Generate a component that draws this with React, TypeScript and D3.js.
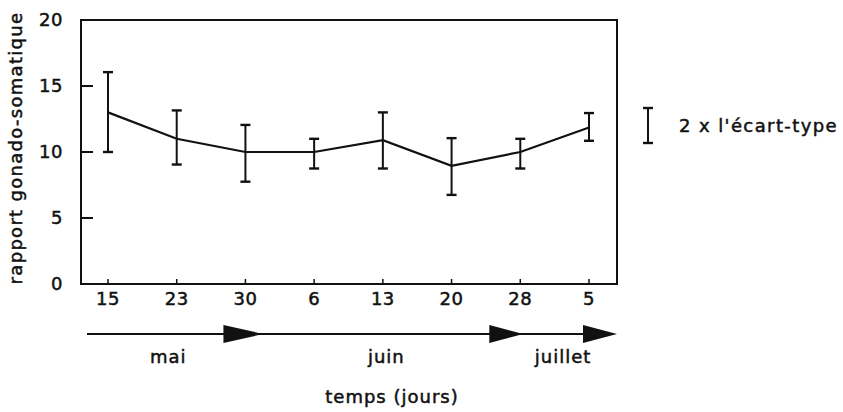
import React, { useEffect, useRef } from 'react';
import * as d3 from 'd3';

// jours d'échantillonnage (mai -> juillet)
const dayLabels = ['15', '23', '30', '6', '13', '20', '28', '5'];
// rapport gonado-somatique moyen
const means = [13.0, 11.0, 10.0, 10.0, 10.9, 8.95, 10.0, 11.85];
// bornes des barres (± écart-type)
const upper = [16.05, 13.15, 12.05, 11.0, 13.0, 11.05, 11.0, 12.95];
const lower = [10.0, 9.05, 7.75, 8.75, 8.75, 6.75, 8.75, 10.85];
const months = ['mai', 'juin', 'juillet'];
const yTicks = [0, 5, 10, 15, 20];

const FONT = '"DejaVu Sans", sans-serif';

const App: React.FC = () => {
  const svgRef = useRef<SVGSVGElement>(null);

  useEffect(() => {
    document.body.style.margin = '0';
    if (!svgRef.current) return;
    const svg = d3.select(svgRef.current);
    svg.selectAll('*').remove();

    const width = 843;
    const height = 412;
    const left = 81, right = 617, top = 20, bottom = 284;

    svg.attr('width', width).attr('height', height).style('background', 'white').style('display', 'block');

    const x = d3.scalePoint<string>().domain(dayLabels).range([108, 589]);
    const y = d3.scaleLinear().domain([0, 20]).range([bottom, top]);

    const g = svg.append('g')
      .style('font-family', FONT)
      .attr('fill', '#111');

    // heavier text like the scanned original
    const txt = (sel: d3.Selection<SVGTextElement, unknown, null, undefined>) =>
      sel.attr('stroke', '#111').attr('stroke-width', 0.5);

    // frame
    g.append('rect')
      .attr('x', left).attr('y', top)
      .attr('width', right - left).attr('height', bottom - top)
      .attr('fill', 'none').attr('stroke', '#111').attr('stroke-width', 2);

    // y ticks (inward)
    yTicks.forEach(t => {
      if (t > 0 && t < 20) {
        g.append('line')
          .attr('x1', left).attr('x2', left + 12)
          .attr('y1', y(t)).attr('y2', y(t))
          .attr('stroke', '#111').attr('stroke-width', 2);
      }
      txt(g.append('text'))
        .attr('x', 63).attr('y', y(t))
        .attr('dy', '0.36em')
        .attr('text-anchor', 'end')
        .style('font-size', '18px')
        .style('letter-spacing', '0.5px')
        .text(t);
    });

    // x ticks + labels
    dayLabels.forEach(d => {
      g.append('line')
        .attr('x1', x(d)!).attr('x2', x(d)!)
        .attr('y1', bottom).attr('y2', bottom - 5)
        .attr('stroke', '#111').attr('stroke-width', 1.5);
      txt(g.append('text'))
        .attr('x', x(d)!).attr('y', 305)
        .attr('text-anchor', 'middle')
        .style('font-size', '18px')
        .style('letter-spacing', '0.5px')
        .text(d);
    });

    // error bars
    const cap = 5;
    dayLabels.forEach((d, i) => {
      const cx = x(d)!;
      g.append('line')
        .attr('x1', cx).attr('x2', cx)
        .attr('y1', y(lower[i])).attr('y2', y(upper[i]))
        .attr('stroke', '#111').attr('stroke-width', 2);
      [lower[i], upper[i]].forEach(v => {
        g.append('line')
          .attr('x1', cx - cap).attr('x2', cx + cap)
          .attr('y1', y(v)).attr('y2', y(v))
          .attr('stroke', '#111').attr('stroke-width', 2.4);
      });
    });

    // mean line
    const line = d3.line<number>()
      .x((_, i) => x(dayLabels[i])!)
      .y(v => y(v));
    g.append('path')
      .attr('d', line(means))
      .attr('fill', 'none')
      .attr('stroke', '#111')
      .attr('stroke-width', 2.2);

    // legend
    const lx = 648, ly1 = 108, ly2 = 143;
    g.append('line').attr('x1', lx).attr('x2', lx).attr('y1', ly1).attr('y2', ly2)
      .attr('stroke', '#111').attr('stroke-width', 2);
    [ly1, ly2].forEach(v => {
      g.append('line').attr('x1', lx - 5).attr('x2', lx + 5).attr('y1', v).attr('y2', v)
        .attr('stroke', '#111').attr('stroke-width', 2.4);
    });
    txt(g.append('text'))
      .attr('x', 679).attr('y', 126)
      .attr('dy', '0.36em')
      .style('font-size', '18px')
      .style('letter-spacing', '1.4px')
      .text("2 x l'écart-type");

    // time arrows
    const ay = 334;
    const tips = [x('30')! + 18, x('28')! + 3, right];
    const starts = [left + 6, tips[0], tips[1]];
    const headLen = [40, 34, 34];
    g.append('line')
      .attr('x1', starts[0]).attr('x2', tips[2] - 10)
      .attr('y1', ay).attr('y2', ay)
      .attr('stroke', '#111').attr('stroke-width', 1.8);
    tips.forEach((t, i) => {
      g.append('path')
        .attr('d', `M${t},${ay} L${t - headLen[i]},${ay - 9} L${t - headLen[i]},${ay + 9} Z`)
        .attr('fill', '#111');
      txt(g.append('text'))
        .attr('x', (starts[i] + t) / 2 - 7)
        .attr('y', 363)
        .attr('text-anchor', 'middle')
        .style('font-size', '18px')
        .style('letter-spacing', '1px')
        .text(months[i]);
    });

    // axis titles
    txt(g.append('text'))
      .attr('x', 392).attr('y', 403)
      .attr('text-anchor', 'middle')
      .style('font-size', '18px')
      .style('letter-spacing', '1px')
      .text('temps (jours)');

    txt(g.append('text'))
      .attr('transform', `translate(22, ${(top + bottom) / 2 - 4}) rotate(-90)`)
      .attr('text-anchor', 'middle')
      .style('font-size', '18px')
      .style('letter-spacing', '1.3px')
      .text('rapport gonado-somatique');
  }, []);

  return <svg ref={svgRef}></svg>;
};

export default App;
